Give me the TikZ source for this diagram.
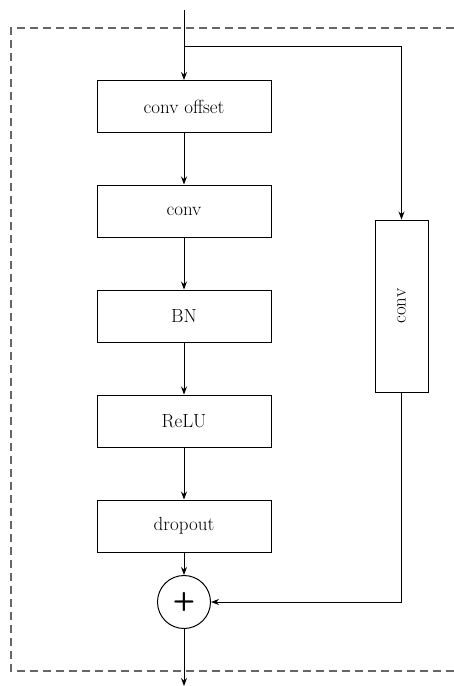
\documentclass[tikz,border=0pt]{standalone}
\usetikzlibrary{arrows.meta}
\begin{document}
\begin{tikzpicture}[x=1pt,y=-1pt,
  blk/.style={draw, line width=1pt, minimum width=174pt, minimum height=52pt, inner sep=0pt, font=\fontsize{19}{22}\selectfont},
  arr/.style={line width=1pt, -{Stealth[length=8pt,width=6pt]}},
  frame/.style={draw=black!60, line width=1.2pt, dash pattern=on 8pt off 5pt}]
\useasboundingbox (0,0) rectangle (454,686);
\draw[frame] (454,28) -- (11,28) -- (11,671) -- (454,671);
\coordinate (in) at (184,10);
\coordinate (split) at (184,46);
\coordinate (out) at (184,686);
\node[blk] (co) at (184,106.5) {conv offset};
\node[blk] (c) at (184,211) {conv};
\node[blk] (bn) at (184,316) {BN};
\node[blk] (relu) at (184,421) {ReLU};
\node[blk] (drop) at (184,526) {dropout};
\node[draw, circle, line width=1pt, minimum size=53pt, inner sep=0pt, font=\fontsize{26}{28}\selectfont\sffamily\bfseries] (add) at (184,602) {+};
\node[draw, line width=1pt, minimum width=53pt, minimum height=172pt, inner sep=0pt] (rc) at (401.5,306) {};
\node[rotate=90, font=\fontsize{19}{22}\selectfont] (rcl) at (rc.center) {conv};
\draw[arr] (in) -- (co);
\draw[arr] (split) -| (rc.north);
\draw[arr] (co) -- (c);
\draw[arr] (c) -- (bn);
\draw[arr] (bn) -- (relu);
\draw[arr] (relu) -- (drop);
\draw[arr] (drop) -- (add);
\draw[arr] (rc.south) |- (add.east);
\draw[arr] (add) -- (out);
\end{tikzpicture}
\end{document}
